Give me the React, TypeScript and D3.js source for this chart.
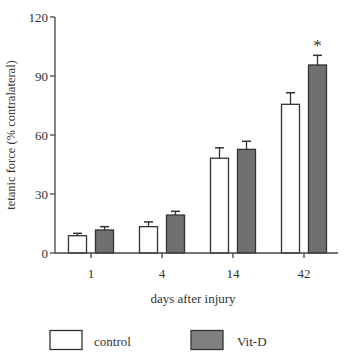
import React from "react";
import * as d3 from "d3";

const categories = ["1", "4", "14", "42"];
const controlValues = [8.8, 13.4, 48.2, 75.6];
const controlErrors = [1.2, 2.4, 5.3, 5.9];
const vitDValues = [11.7, 19.3, 52.7, 95.6];
const vitDErrors = [1.7, 1.9, 4.1, 4.9];
const yTicks = [0, 30, 60, 90, 120];
const significant = [false, false, false, true];

export default function App() {
  const W = 356, H = 354;
  const x0 = 55, x1 = 338;
  const y = d3.scaleLinear().domain([0, 120]).range([253, 17]);
  const x = d3.scalePoint<string>().domain(categories).range([91, 304]);
  const barW = 18;
  const off = 13.5;
  const font = "'Liberation Serif', 'Times New Roman', serif";
  const axisColor = "#444";
  const series = [
    { vals: controlValues, errs: controlErrors, fill: "#ffffff", dx: -off },
    { vals: vitDValues, errs: vitDErrors, fill: "#707070", dx: off },
  ];
  return (
    <svg width={W} height={H} style={{ position: "absolute", left: 0, top: 0 }} fontFamily={font}>
      <rect width={W} height={H} fill="#fff" />
      {series.map((s, si) =>
        categories.map((c, i) => {
          const cx = (x(c) as number) + s.dx;
          const top = y(s.vals[i]);
          const et = y(s.vals[i] + s.errs[i]);
          return (
            <g key={si + "-" + i}>
              <line x1={cx} x2={cx} y1={top} y2={et} stroke="#333" strokeWidth={1.3} />
              <line x1={cx - 4.5} x2={cx + 4.5} y1={et} y2={et} stroke="#333" strokeWidth={1.5} />
              <rect x={cx - barW / 2} y={top} width={barW} height={y(0) - top} fill={s.fill} stroke="#333" strokeWidth={1.3} />
            </g>
          );
        })
      )}
      {categories.map((c, i) =>
        significant[i] ? (
          <text key={"s" + c} x={(x(c) as number) + off} y={y(vitDValues[i] + vitDErrors[i]) - 4} textAnchor="middle" fontSize={17} fill="#333">*</text>
        ) : null
      )}
      {/* y axis */}
      <line x1={x0} x2={x0} y1={y(120)} y2={y(0)} stroke={axisColor} strokeWidth={1.3} />
      {yTicks.map((t) => (
        <g key={"y" + t}>
          <line x1={x0 - 5} x2={x0} y1={y(t)} y2={y(t)} stroke={axisColor} strokeWidth={1.3} />
          <text x={x0 - 7} y={y(t) + 4.5} textAnchor="end" fontSize={13} fill="#333">{t}</text>
        </g>
      ))}
      {/* x axis */}
      <line x1={x0} x2={x1} y1={y(0)} y2={y(0)} stroke={axisColor} strokeWidth={1.3} />
      {categories.map((c) => (
        <g key={"x" + c}>
          <line x1={x(c)} x2={x(c)} y1={y(0)} y2={y(0) + 5} stroke={axisColor} strokeWidth={1.3} />
          <text x={x(c)} y={278} textAnchor="middle" fontSize={13} fill="#333">{c}</text>
        </g>
      ))}
      <text x={193} y={303} textAnchor="middle" fontSize={13} fill="#333">days after injury</text>
      <text transform={`translate(15,135) rotate(-90)`} textAnchor="middle" fontSize={12.5} fill="#333">tetanic force (% contralateral)</text>
      {/* legend */}
      <rect x={50} y={330.5} width={32} height={19} fill="#fff" stroke="#333" strokeWidth={1.3} />
      <text x={94} y={346} fontSize={13} fill="#333">control</text>
      <rect x={191} y={330.5} width={32} height={19} fill="#808080" stroke="#333" strokeWidth={1.3} />
      <text x={237} y={346} fontSize={13} fill="#333">Vit-D</text>
    </svg>
  );
}
